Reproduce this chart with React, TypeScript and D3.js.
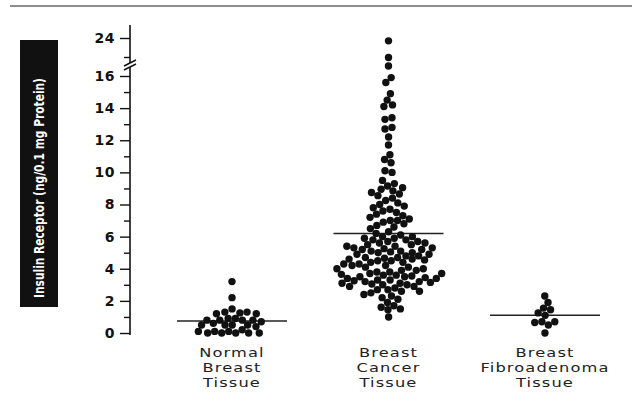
import React, { Component } from 'react';
import * as d3 from 'd3';

const categories = ['Normal Breast Tissue', 'Breast Cancer Tissue', 'Breast Fibroadenoma Tissue'];
const categoryLines = [
  ['Normal', 'Breast', 'Tissue'],
  ['Breast', 'Cancer', 'Tissue'],
  ['Breast', 'Fibroadenoma', 'Tissue'],
];

const normalValues = [
  3.2, 2.2, 1.5,
  1.3, 1.3, 1.2, 1.2, 1.25,
  0.9, 0.9, 0.8, 0.8, 0.8, 0.7, 0.8,
  0.5, 0.5, 0.5, 0.6, 0.4, 0.5,
  0.1, 0.1, 0.2, 0.1, 0.0,
  0.0, 0.0, 0.0, 0.0,
];

const cancerValues = [
  23.4, 19.9, 18.1, 15.9, 15.6, 14.9, 14.5, 14.2, 14.1, 13.4, 13.3, 12.8, 12.7, 12.2,
  11.7, 11.1, 10.8, 10.6, 10.1, 10.0, 9.5, 9.3, 9.15, 9.05, 8.95, 8.85, 8.75,
  8.65, 8.55, 8.4, 8.25, 8.1, 8.0,
  7.9, 7.8, 7.7, 7.6, 7.5,
  7.4, 7.3, 7.2, 7.1, 7.0, 7.0,
  6.9, 6.8, 6.7, 6.6, 6.5, 6.3, 6.2,
  6.1, 6.0, 6.0, 5.9, 5.9, 5.8, 5.8, 5.7, 5.7, 5.6, 5.6, 5.5, 5.5, 5.4, 5.4,
  5.3, 5.3, 5.2, 5.2, 5.1, 5.1, 5.0, 5.0, 4.9, 4.9, 5.25, 5.05,
  4.8, 4.8, 4.7, 4.7, 4.6, 4.6, 4.5, 4.5, 4.4, 4.4, 4.65, 4.55,
  4.3, 4.3, 4.2, 4.2, 4.1, 4.1, 4.0, 4.0, 3.9, 3.9, 3.8, 3.8,
  3.7, 3.7, 3.65, 3.6, 3.6, 3.5, 3.5, 3.45, 3.4, 3.4, 3.3, 3.3, 3.25, 3.55,
  3.2, 3.2, 3.1, 3.1, 3.0, 3.0, 2.9, 2.9, 3.05, 3.15,
  2.8, 2.7, 2.7, 2.6, 2.5, 2.6,
  2.4, 2.3, 2.2, 2.1,
  1.9, 1.7, 1.6, 1.5, 1.45,
  1.0,
];

const fibroadenomaValues = [2.3, 1.9, 1.55, 1.45, 1.25, 1.1, 0.65, 0.7, 0.5, 0.7, 0.0];

const groupValues = [normalValues, cancerValues, fibroadenomaValues];
const centerLines = [0.75, 6.2, 1.1];

const majorTicks = [0, 2, 4, 6, 8, 10, 12, 14, 16, 24];
const minorTicks = [1, 3, 5, 7, 9, 11, 13, 15, 20];
const yLabel = 'Insulin Receptor (ng/0.1 mg Protein)';

export default class App extends Component {
  root = React.createRef<SVGSVGElement>();

  render() {
    return (
      <svg
        ref={this.root}
        width={632}
        height={405}
        style={{ position: 'absolute', left: 0, top: 0, background: '#fff' }}
      />
    );
  }

  componentDidMount() {
    const svg = d3.select(this.root.current);
    svg.selectAll('*').remove();

    // broken axis: 0-16 linear, compressed above the break up to 24
    const y = d3.scaleLinear().domain([0, 16, 24]).range([333, 76, 38]);
    const x = d3.scalePoint().domain(categories).range([232, 545]);

    // page edge from the scan
    svg.append('line')
      .attr('x1', 10).attr('x2', 632).attr('y1', 6).attr('y2', 6)
      .attr('stroke', '#666').attr('stroke-width', 1.5);

    // y label box
    svg.append('rect')
      .attr('x', 20).attr('y', 40).attr('width', 38).attr('height', 267)
      .attr('fill', '#111');
    svg.append('text')
      .attr('transform', 'translate(44,188) rotate(-90)')
      .attr('text-anchor', 'middle')
      .attr('fill', '#fff')
      .attr('font-family', '"Liberation Sans Narrow", "DejaVu Sans Condensed", "Roboto", sans-serif')
      .attr('font-size', 14)
      .attr('font-weight', 'bold')
      .attr('textLength', 220)
      .attr('lengthAdjust', 'spacingAndGlyphs')
      .text(yLabel);

    // axis line with break
    const axisX = 130;
    svg.append('line')
      .attr('x1', axisX).attr('x2', axisX).attr('y1', 25).attr('y2', 63)
      .attr('stroke', '#111').attr('stroke-width', 1.6);
    svg.append('line')
      .attr('x1', axisX).attr('x2', axisX).attr('y1', 67).attr('y2', 335)
      .attr('stroke', '#111').attr('stroke-width', 1.6);
    [0, 4].forEach((off) => {
      svg.append('line')
        .attr('x1', 124).attr('y1', 66 + off).attr('x2', 136).attr('y2', 60 + off)
        .attr('stroke', '#111').attr('stroke-width', 1.4);
    });

    const major = svg.append('g')
      .attr('transform', `translate(${axisX},0)`)
      .call(d3.axisLeft(y).tickValues(majorTicks).tickSize(10).tickPadding(5).tickFormat(d3.format('d')));
    major.select('.domain').remove();
    major.selectAll('line').attr('stroke', '#111').attr('stroke-width', 1.4);
    major.selectAll('text')
      .attr('fill', '#111')
      .attr('font-family', '"DejaVu Sans", sans-serif')
      .attr('font-weight', 'bold')
      .attr('font-size', 14)
      .attr('letter-spacing', 0.5);

    const minor = svg.append('g')
      .attr('transform', `translate(${axisX},0)`)
      .call(d3.axisLeft(y).tickValues(minorTicks).tickSize(6).tickFormat(() => ''));
    minor.select('.domain').remove();
    minor.selectAll('line').attr('stroke', '#111').attr('stroke-width', 1.4);

    // swarms: y fixed at the value, x pushed out by collisions
    const swarm = (values, cx) => {
      const nodes = values.map((v, i) => ({
        v,
        x: cx + (i % 2 ? 1 : -1) * (i % 7),
        y: y(v),
        fy: y(v),
      }));
      const sim = d3.forceSimulation(nodes)
        .force('x', d3.forceX(cx).strength(0.06))
        .force('collide', d3.forceCollide(3.6).iterations(3))
        .stop();
      for (let i = 0; i < 300; i++) sim.tick();
      return nodes;
    };

    categories.forEach((cat, gi) => {
      const cx = x(cat);
      const g = svg.append('g').attr('class', 'group');
      g.append('line')
        .attr('x1', cx - 55).attr('x2', cx + 55)
        .attr('y1', y(centerLines[gi])).attr('y2', y(centerLines[gi]))
        .attr('stroke', '#222').attr('stroke-width', 1.5);
      g.selectAll('circle')
        .data(swarm(groupValues[gi], cx))
        .enter().append('circle')
        .attr('cx', (d) => d.x)
        .attr('cy', (d) => d.y)
        .attr('r', 3.7)
        .attr('fill', '#111');

      categoryLines[gi].forEach((ln, li) => {
        svg.append('text')
          .attr('transform', `translate(${cx},${357 + li * 15}) scale(1.25,1)`)
          .attr('text-anchor', 'middle')
          .attr('fill', '#222')
          .attr('font-family', '"DejaVu Sans", sans-serif')
          .attr('font-size', 13)
          .attr('letter-spacing', 0.9)
          .text(ln);
      });
    });
  }
}
